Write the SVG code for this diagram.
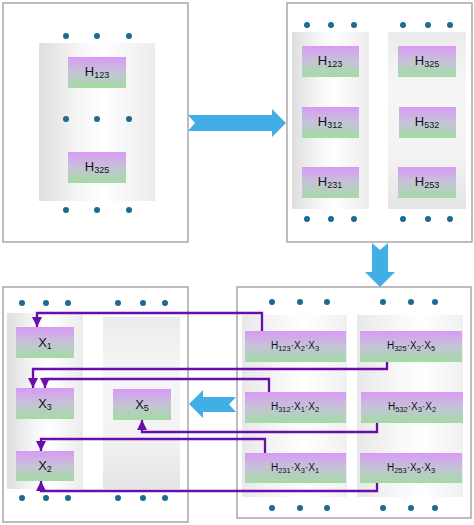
<svg xmlns="http://www.w3.org/2000/svg" width="474" height="525" viewBox="0 0 474 525">
<defs>
<linearGradient id="box" x1="0" y1="0" x2="0" y2="1">
<stop offset="0" stop-color="#d89af5"/>
<stop offset="0.5" stop-color="#c5c3d8"/>
<stop offset="1" stop-color="#a3dca2"/>
</linearGradient>
<linearGradient id="bandH" x1="0" y1="0" x2="1" y2="0">
<stop offset="0" stop-color="#dedede"/>
<stop offset="0.35" stop-color="#f6f6f6"/>
<stop offset="0.55" stop-color="#ffffff"/>
<stop offset="0.85" stop-color="#f2f2f2"/>
<stop offset="1" stop-color="#ececec"/>
</linearGradient>
<linearGradient id="bandL" x1="0" y1="0" x2="1" y2="0">
<stop offset="0" stop-color="#e8e8e8"/>
<stop offset="0.4" stop-color="#f8f8f8"/>
<stop offset="0.6" stop-color="#ffffff"/>
<stop offset="1" stop-color="#f0f0f0"/>
</linearGradient>
<linearGradient id="bandV" x1="0" y1="0" x2="0" y2="1">
<stop offset="0" stop-color="#ebebeb"/>
<stop offset="0.3" stop-color="#f6f6f6"/>
<stop offset="0.7" stop-color="#f3f3f3"/>
<stop offset="1" stop-color="#e4e4e4"/>
</linearGradient>
<marker id="ah" markerUnits="userSpaceOnUse" markerWidth="11" markerHeight="11" refX="10" refY="5.5" orient="auto">
<path d="M0,0.5 L10,5.5 L0,10.5 z" fill="#6a0dad"/>
</marker>
</defs>
<style>
.panel{fill:#fff;stroke:#a8a8a8;stroke-width:1.5}
.bh{fill:url(#bandH)}
.bl{fill:url(#bandL)}
.bv{fill:url(#bandV)}
.node{fill:url(#box)}
.dot{fill:#1d6a92}
.t{font-family:"Liberation Sans",Arial,sans-serif;fill:#111;text-anchor:middle}
.big{font-size:13px}
.small{font-size:10px}
.blue{fill:#42aee6}
.conn{fill:none;stroke:#6a0dad;stroke-width:2.3;marker-end:url(#ah)}
</style>

<!-- Panel 1 -->
<g id="panel1">
<rect class="panel" x="3" y="3" width="185" height="239"/>
<rect class="bh" x="39" y="43" width="116" height="158"/>
<g class="dot"><circle cx="66" cy="36" r="3"/><circle cx="97" cy="36" r="3"/><circle cx="129" cy="36" r="3"/>
<circle cx="66" cy="119" r="3"/><circle cx="97" cy="119" r="3"/><circle cx="129" cy="119" r="3"/>
<circle cx="66" cy="210" r="3"/><circle cx="97" cy="210" r="3"/><circle cx="129" cy="210" r="3"/></g>
</g>
<g id="p1_H123"><rect class="node" x="68" y="57" width="58" height="31"/><text class="t big" x="97" y="76">H<tspan font-size="9" dy="2">123</tspan></text></g>
<g id="p1_H325"><rect class="node" x="68" y="152" width="58" height="31"/><text class="t big" x="97" y="171">H<tspan font-size="9" dy="2">325</tspan></text></g>

<!-- Panel 2 -->
<g id="panel2">
<rect class="panel" x="287" y="3" width="185" height="239"/>
<rect class="bh" x="292" y="32" width="77" height="177"/>
<rect class="bv" x="388" y="32" width="78" height="177"/>
<g class="dot"><circle cx="307" cy="25" r="3"/><circle cx="331" cy="25" r="3"/><circle cx="354" cy="25" r="3"/>
<circle cx="403" cy="25" r="3"/><circle cx="428" cy="25" r="3"/><circle cx="450" cy="25" r="3"/>
<circle cx="307" cy="219" r="3"/><circle cx="331" cy="219" r="3"/><circle cx="354" cy="219" r="3"/>
<circle cx="403" cy="219" r="3"/><circle cx="428" cy="219" r="3"/><circle cx="450" cy="219" r="3"/></g>
</g>
<g id="p2_H123"><rect class="node" x="302" y="46" width="57" height="31"/><text class="t big" x="330" y="65">H<tspan font-size="9" dy="2">123</tspan></text></g>
<g id="p2_H312"><rect class="node" x="302" y="107" width="57" height="31"/><text class="t big" x="330" y="126">H<tspan font-size="9" dy="2">312</tspan></text></g>
<g id="p2_H231"><rect class="node" x="302" y="167" width="57" height="31"/><text class="t big" x="330" y="186">H<tspan font-size="9" dy="2">231</tspan></text></g>
<g id="p2_H325"><rect class="node" x="398" y="46" width="58" height="31"/><text class="t big" x="427" y="65">H<tspan font-size="9" dy="2">325</tspan></text></g>
<g id="p2_H532"><rect class="node" x="399" y="107" width="57" height="31"/><text class="t big" x="427" y="126">H<tspan font-size="9" dy="2">532</tspan></text></g>
<g id="p2_H253"><rect class="node" x="398" y="167" width="58" height="31"/><text class="t big" x="427" y="186">H<tspan font-size="9" dy="2">253</tspan></text></g>

<!-- Panel 3 -->
<g id="panel3">
<rect class="panel" x="3" y="287" width="185" height="235"/>
<rect class="bh" x="7" y="313" width="76" height="176"/>
<rect class="bv" x="103" y="317" width="77" height="172"/>
<g class="dot"><circle cx="22" cy="303" r="3"/><circle cx="46" cy="303" r="3"/><circle cx="68" cy="303" r="3"/>
<circle cx="118" cy="303" r="3"/><circle cx="143" cy="303" r="3"/><circle cx="165" cy="303" r="3"/>
<circle cx="22" cy="498" r="3"/><circle cx="46" cy="498" r="3"/><circle cx="68" cy="498" r="3"/>
<circle cx="118" cy="498" r="3"/><circle cx="143" cy="498" r="3"/><circle cx="165" cy="498" r="3"/></g>
</g>
<g id="X1"><rect class="node" x="16" y="327" width="58" height="31"/><text class="t big" x="45" y="347">X<tspan font-size="9" dy="2">1</tspan></text></g>
<g id="X3"><rect class="node" x="16" y="388" width="58" height="31"/><text class="t big" x="45" y="408">X<tspan font-size="9" dy="2">3</tspan></text></g>
<g id="X2"><rect class="node" x="16" y="451" width="58" height="30"/><text class="t big" x="45" y="470">X<tspan font-size="9" dy="2">2</tspan></text></g>
<g id="X5"><rect class="node" x="113" y="389" width="58" height="31"/><text class="t big" x="142" y="409">X<tspan font-size="9" dy="2">5</tspan></text></g>

<!-- Panel 4 -->
<g id="panel4">
<rect class="panel" x="237" y="287" width="234" height="231"/>
<rect class="bl" x="242" y="315" width="105" height="182"/>
<rect class="bl" x="357" y="315" width="106" height="182"/>
<g class="dot"><circle cx="272" cy="302" r="3"/><circle cx="300" cy="302" r="3"/><circle cx="327" cy="302" r="3"/>
<circle cx="383" cy="302" r="3"/><circle cx="411" cy="302" r="3"/><circle cx="435" cy="302" r="3"/>
<circle cx="272" cy="508" r="3"/><circle cx="300" cy="508" r="3"/><circle cx="327" cy="508" r="3"/>
<circle cx="383" cy="508" r="3"/><circle cx="411" cy="508" r="3"/><circle cx="435" cy="508" r="3"/></g>
</g>
<g id="H123X2X3"><rect class="node" x="245" y="331" width="101" height="31"/><text class="t small" x="295" y="349">H<tspan font-size="7.5" dy="2">123</tspan><tspan dy="-2">·X</tspan><tspan font-size="7.5" dy="2">2</tspan><tspan dy="-2">·X</tspan><tspan font-size="7.5" dy="2">3</tspan></text></g>
<g id="H312X1X2"><rect class="node" x="245" y="392" width="101" height="31"/><text class="t small" x="295" y="410">H<tspan font-size="7.5" dy="2">312</tspan><tspan dy="-2">·X</tspan><tspan font-size="7.5" dy="2">1</tspan><tspan dy="-2">·X</tspan><tspan font-size="7.5" dy="2">2</tspan></text></g>
<g id="H231X3X1"><rect class="node" x="245" y="453" width="101" height="30"/><text class="t small" x="295" y="471">H<tspan font-size="7.5" dy="2">231</tspan><tspan dy="-2">·X</tspan><tspan font-size="7.5" dy="2">3</tspan><tspan dy="-2">·X</tspan><tspan font-size="7.5" dy="2">1</tspan></text></g>
<g id="H325X2X5"><rect class="node" x="360" y="331" width="102" height="31"/><text class="t small" x="411" y="349">H<tspan font-size="7.5" dy="2">325</tspan><tspan dy="-2">·X</tspan><tspan font-size="7.5" dy="2">2</tspan><tspan dy="-2">·X</tspan><tspan font-size="7.5" dy="2">5</tspan></text></g>
<g id="H532X3X2"><rect class="node" x="361" y="392" width="102" height="31"/><text class="t small" x="412" y="410">H<tspan font-size="7.5" dy="2">532</tspan><tspan dy="-2">·X</tspan><tspan font-size="7.5" dy="2">3</tspan><tspan dy="-2">·X</tspan><tspan font-size="7.5" dy="2">2</tspan></text></g>
<g id="H253X5X3"><rect class="node" x="360" y="453" width="102" height="30"/><text class="t small" x="411" y="471">H<tspan font-size="7.5" dy="2">253</tspan><tspan dy="-2">·X</tspan><tspan font-size="7.5" dy="2">5</tspan><tspan dy="-2">·X</tspan><tspan font-size="7.5" dy="2">3</tspan></text></g>

<!-- Big blue arrows -->
<g id="flow-arrows">
<polygon class="blue" points="188,115 272,115 272,109 286,123 272,137 272,131 188,131 195,123"/>
<polygon class="blue" points="372,243 380,250 388,243 388,272 395,272 380,287 365,272 372,272"/>
<polygon class="blue" points="189,404 203,390 203,397 236,397 229,404.5 236,412 203,412 203,418"/>
</g>

<!-- Connectors -->
<g id="connectors">
<path class="conn" d="M262,331 V313 H37 V327"/>
<path class="conn" d="M387,362 V369 H33 V388"/>
<path class="conn" d="M269,392 V379 H45 V388"/>
<path class="conn" d="M377,423 V432 H142 V420"/>
<path class="conn" d="M265,453 V439 H41 V451"/>
<path class="conn" d="M377,483 V491 H41 V481"/>
</g>
</svg>
